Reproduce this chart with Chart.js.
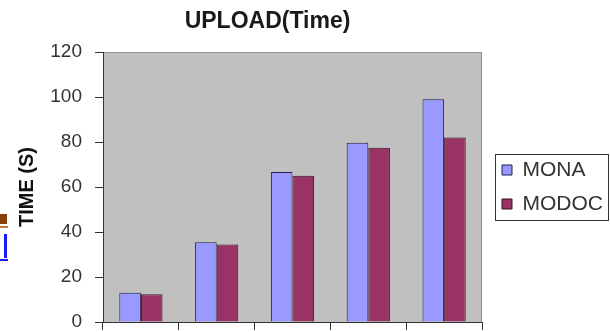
<!DOCTYPE html>
<html>
<head>
<meta charset="utf-8">
<script src="https://cdn.jsdelivr.net/npm/chart.js@4.4.1/dist/chart.umd.min.js"></script>
<style>
html,body{margin:0;padding:0;background:#fff;}
#wrap{position:relative;width:610px;height:332px;overflow:hidden;}
#uploadChart{display:block;}
.edge-brown{position:absolute;left:0;top:214px;width:7px;height:10px;background:#8a3f0c;}
.edge-line{position:absolute;left:0;top:226px;width:8px;height:2px;background:#c87a3a;}
.edge-link{position:absolute;left:4px;top:234px;width:3px;height:24px;background:#1a1aff;}
.edge-under{position:absolute;left:0;top:259px;width:8px;height:2px;background:#1a1aff;}
</style>
</head>
<body>
<div id="wrap">
<canvas id="uploadChart" width="610" height="332"></canvas>
<div class="edge-brown"></div>
<div class="edge-line"></div>
<div class="edge-link"></div>
<div class="edge-under"></div>
</div>
<script>
const categories = ["1", "2", "3", "4", "5"];
const monaTimes = [13, 35.5, 66.7, 79.7, 99];
const modocTimes = [12.3, 34.5, 65, 77.5, 82];
const timeTicks = [0, 20, 40, 60, 80, 100, 120];

Chart.defaults.font.family = "'Liberation Sans', Arial, sans-serif";

// gray plot area, title/legend nudges and legend frame
const layoutTweaks = {
    id: "layoutTweaks",
    beforeDraw(chart){
        const {ctx, chartArea: a} = chart;
        ctx.save();
        ctx.fillStyle = "#c0c0c0";
        ctx.fillRect(a.left, a.top, a.right - a.left, a.bottom - a.top);
        ctx.strokeStyle = "#8e8e8e";
        ctx.lineWidth = 1;
        ctx.beginPath();
        ctx.moveTo(a.left, a.top + 0.5);
        ctx.lineTo(a.right - 0.5, a.top + 0.5);
        ctx.lineTo(a.right - 0.5, a.bottom);
        ctx.stroke();
        ctx.restore();
    },
    afterLayout(chart){
        const t = chart.titleBlock;
        t.left = 0;
        t.right = 535;
        t.width = 535;
        chart.legend.left += 7;
        chart.legend.right += 7;
    },
    afterDraw(chart){
        const boxes = chart.legend.legendHitBoxes;
        if(!boxes || !boxes.length) return;
        const l = Math.min(...boxes.map(b => b.left)) - 7;
        const t = Math.min(...boxes.map(b => b.top)) - 6;
        const r = Math.max(...boxes.map(b => b.left + b.width)) + 5;
        const b = Math.max(...boxes.map(b => b.top + b.height)) + 5;
        const ctx = chart.ctx;
        ctx.save();
        ctx.strokeStyle = "#333";
        ctx.lineWidth = 1;
        ctx.strokeRect(Math.round(l) + 0.5, Math.round(t) + 0.5, Math.round(r - l), Math.round(b - t));
        ctx.restore();
    }
};

new Chart(document.getElementById("uploadChart"), {
    type: "bar",
    data: {
        labels: categories,
        datasets: [
            {
                label: "MONA",
                data: monaTimes,
                backgroundColor: "#9999ff",
                borderColor: "#1f1f4d",
                borderWidth: 1
            },
            {
                label: "MODOC",
                data: modocTimes,
                backgroundColor: "#993366",
                borderColor: "#3b0f24",
                borderWidth: 1
            }
        ]
    },
    options: {
        responsive: false,
        animation: false,
        categoryPercentage: 0.57,
        barPercentage: 1.0,
        layout: {
            padding: {top: 0, left: 11, right: 4, bottom: 2}
        },
        scales: {
            x: {
                ticks: {display: false},
                grid: {offset: true, drawOnChartArea: false, drawTicks: true, tickLength: 8, color: "#333"},
                border: {color: "#333"},
                afterFit(scale){
                    scale.height = 8;
                    scale.paddingLeft = 0;
                    scale.paddingRight = 0;
                }
            },
            y: {
                min: timeTicks[0],
                max: timeTicks[timeTicks.length - 1],
                ticks: {stepSize: timeTicks[1] - timeTicks[0], padding: 13, color: "#333", font: {size: 19}},
                grid: {drawOnChartArea: false, drawTicks: true, tickLength: 8, color: "#333"},
                border: {color: "#333"},
                title: {
                    display: true,
                    text: "TIME (S)",
                    color: "#111",
                    font: {size: 20, weight: "bold"},
                    padding: {top: 4, bottom: 2}
                },
                afterFit(scale){
                    scale.width = 92;
                    scale.paddingTop = 0;
                    scale.paddingBottom = 0;
                }
            }
        },
        plugins: {
            title: {
                display: true,
                text: "UPLOAD(Time)",
                color: "#1a1a1a",
                font: {size: 23, weight: "bold"},
                padding: {top: 8, bottom: 16.4}
            },
            legend: {
                position: "right",
                align: "center",
                fullSize: false,
                labels: {
                    boxWidth: 10,
                    boxHeight: 10,
                    padding: 13,
                    color: "#333",
                    font: {size: 21}
                }
            },
            tooltip: {enabled: false}
        }
    },
    plugins: [layoutTweaks]
});
</script>
</body>
</html>
